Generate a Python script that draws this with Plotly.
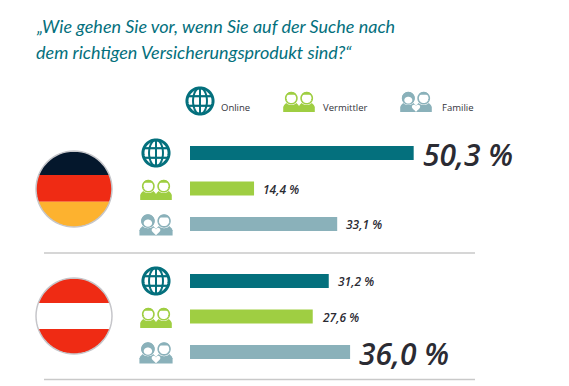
import math
import plotly.graph_objects as go

# ---- data ----
title_lines = ["„Wie gehen Sie vor, wenn Sie auf der Suche nach", "dem richtigen Versicherungsprodukt sind?“"]
countries = ["Deutschland", "Österreich"]
channels = ["Online", "Vermittler", "Familie"]
online = [50.3, 31.2]
vermittler = [14.4, 27.6]
familie = [33.1, 36.0]

# ---- style / layout ----
W, H = 569, 386
TEAL, GREEN, BLUE = "#04707d", "#9fce42", "#8ab1ba"
RED, BLACK, GOLD = "#ef2b14", "#04172c", "#fdb22f"
INK = "#2b2b33"
colors = [TEAL, GREEN, BLUE]
series = [online, vermittler, familie]
PX_PER_UNIT = 4.447
BAR_X0 = 190
ROW_PX = 35.5
ROW0_PX = 153
GROUP_GAP = 0.606


def row(g, m):
    return g * (3 + GROUP_GAP) + m


def px(x, y):
    return f"{x / W:.5f} {1 - y / H:.5f}"


def poly(points):
    return "M " + " L ".join(px(x, y) for x, y in points) + " Z"


def shape_path(points, fill=None, line=None, lw=0, closed=True):
    d = poly(points) if closed else "M " + " L ".join(px(x, y) for x, y in points)
    return dict(type="path", xref="paper", yref="paper", path=d,
                fillcolor=fill if fill else "rgba(0,0,0,0)",
                line=dict(color=line if line else "rgba(0,0,0,0)", width=lw), layer="above")


def ellipse_pts(cx, cy, rx, ry, a0=0, a1=360, n=64):
    return [(cx + rx * math.cos(math.radians(a0 + (a1 - a0) * i / n)),
             cy + ry * math.sin(math.radians(a0 + (a1 - a0) * i / n))) for i in range(n + 1)]


def band(cx, cy, r, y0, y1, n=40):
    pts = []
    for i in range(n + 1):
        y = y0 + (y1 - y0) * i / n
        d = y - cy
        pts.append((cx + math.sqrt(max(r * r - d * d, 0)), y))
    for i in range(n + 1):
        y = y1 + (y0 - y1) * i / n
        d = y - cy
        pts.append((cx - math.sqrt(max(r * r - d * d, 0)), y))
    return pts


def flag(cx, cy, r, stripes, cuts):
    s = []
    edges = [cy - r] + cuts + [cy + r]
    for c, a, b in zip(stripes, edges[:-1], edges[1:]):
        s.append(shape_path(band(cx, cy, r, a, b), fill=c))
    s.append(shape_path(ellipse_pts(cx, cy, r, r), line="#c6c6ca", lw=1.5))
    return s


def globe(cx, cy, r):
    s = [shape_path(ellipse_pts(cx, cy, r * 0.9, r * 0.9), line=TEAL, lw=3)]
    s.append(shape_path(ellipse_pts(cx, cy, r * 0.48, r * 0.9), line=TEAL, lw=2))
    s.append(shape_path([(cx, cy - r * 0.9), (cx, cy + r * 0.9)], line=TEAL, lw=2, closed=False))
    for k in (-0.33, 0.33):
        dx = r * 0.9 * math.sqrt(1 - k * k / 0.81)
        s.append(shape_path([(cx - dx, cy + k * r), (cx + dx, cy + k * r)], line=TEAL, lw=2.2, closed=False))
    return s


def person(cx, cy, sc, color, hair=False, side=1):
    """One figure; cx,cy is the centre of the whole two-person icon."""
    hx = cx + side * 7.7 * sc
    s = []
    x0, x1 = hx - 8.1 * sc, hx + 8.1 * sc
    top, bot = cy - 2 * sc, cy + 10 * sc
    body = [(x0, bot), (x0, top + 7 * sc), (x0 + 1 * sc, top + 5 * sc), (x0 + 4 * sc, top + 2 * sc),
            (hx, top), (x1 - 4 * sc, top + 2 * sc), (x1 - 1 * sc, top + 5 * sc), (x1, top + 7 * sc), (x1, bot)]
    s.append(shape_path(body, fill=color))
    hy = cy - 3.8 * sc
    s.append(shape_path(ellipse_pts(hx, hy, 7.1 * sc, 6.9 * sc), fill="#ffffff"))
    s.append(shape_path(ellipse_pts(hx, hy, 5.6 * sc, 5.6 * sc), fill="#ffffff", line=color, lw=1.6))
    if hair:
        s.append(shape_path(ellipse_pts(hx, hy, 6.4 * sc, 6.2 * sc), fill=color))
        s.append(shape_path(ellipse_pts(hx, hy + 2.0 * sc, 4.0 * sc, 3.4 * sc), fill="#ffffff"))
    else:
        s.append(shape_path(ellipse_pts(hx, hy - 3.4 * sc, 4.6 * sc, 2.6 * sc, 180, 360), fill=color))
    return s


def heart(cx, cy, sc):
    pts = []
    for i in range(41):
        t = 2 * math.pi * i / 40
        x = 16 * math.sin(t) ** 3
        y = 13 * math.cos(t) - 5 * math.cos(2 * t) - 2 * math.cos(3 * t) - math.cos(4 * t)
        pts.append((cx + x * sc / 5, cy - y * sc / 5))
    return [shape_path(pts, fill="#ffffff")]


def duo(cx, cy, sc=1.0):
    return person(cx, cy, sc, GREEN, side=-1) + person(cx, cy, sc, GREEN, side=1)


def fam(cx, cy, sc=1.0):
    return (person(cx, cy, sc, BLUE, hair=True, side=-1) + person(cx, cy, sc, BLUE, side=1)
            + heart(cx, cy + 5.8 * sc, 1.3 * sc))


fig = go.Figure()
for name, vals, col in zip(channels, series, colors):
    m = channels.index(name)
    fig.add_trace(go.Bar(
        x=vals, y=[row(g, m) for g in range(len(countries))], orientation="h",
        name=name, width=0.39, marker=dict(color=col, line=dict(width=0)),
        showlegend=False, hoverinfo="x+name",
    ))

annotations = []
for g in range(len(countries)):
    top = max(s[g] for s in series)
    for m, s in enumerate(series):
        v = s[g]
        big = v == top
        label = f"{v:.1f}".replace(".", ",") + " %"
        annotations.append(dict(
            x=v, y=row(g, m), xref="x", yref="y", xanchor="left", yanchor="middle",
            xshift=7, yshift=-1 if big else -0.5, showarrow=False,
            text=f"<i>{label}</i>",
            font=dict(family="Open Sans", size=30 if big else 12, color=INK, weight=600),
        ))

for i, line in enumerate(title_lines):
    annotations.append(dict(
        x=34 / W, y=1 - (26 + i * 26) / H, xref="paper", yref="paper", xanchor="left", yanchor="middle",
        showarrow=False, text=f"<i>{line}</i>", font=dict(family="Lato", size=18, color=TEAL),
    ))
for name, lx in zip(channels, (219, 321, 440)):
    annotations.append(dict(
        x=lx / W, y=1 - 107.5 / H, xref="paper", yref="paper", xanchor="left", yanchor="middle",
        showarrow=False, text=name, font=dict(family="Open Sans", size=9.5, color="#33333b"),
    ))

shapes = []
shapes += flag(74, 189, 38, [BLACK, RED, GOLD], [175, 201.7])
shapes += flag(74, 316, 38, [RED, "#ffffff", RED], [303, 329])
shapes += globe(200, 101, 14.5) + duo(299, 102) + fam(416, 102)
for cy_g in (153, 281):
    shapes += globe(156, cy_g, 14.5)
    shapes += duo(156, cy_g + 37)
    shapes += fam(156, cy_g + 72, 1.05)
for y in (253, 379.5):
    shapes.append(dict(type="line", xref="paper", yref="paper", x0=44 / W, x1=475 / W,
                       y0=1 - y / H, y1=1 - y / H, line=dict(color="#c9c9c9", width=1.3)))

fig.update_layout(
    width=W, height=H, margin=dict(l=0, r=0, t=0, b=0), autosize=False,
    paper_bgcolor="#ffffff", plot_bgcolor="#ffffff", barmode="overlay",
    xaxis=dict(range=[-BAR_X0 / PX_PER_UNIT, (W - BAR_X0) / PX_PER_UNIT], visible=False, fixedrange=True),
    yaxis=dict(range=[(H - ROW0_PX) / ROW_PX, -ROW0_PX / ROW_PX], visible=False, fixedrange=True),
    shapes=shapes, annotations=annotations,
)
fig.write_html("out.html", config=dict(displayModeBar=False),
               post_script="document.body.style.margin='0';document.body.style.overflow='hidden';")
